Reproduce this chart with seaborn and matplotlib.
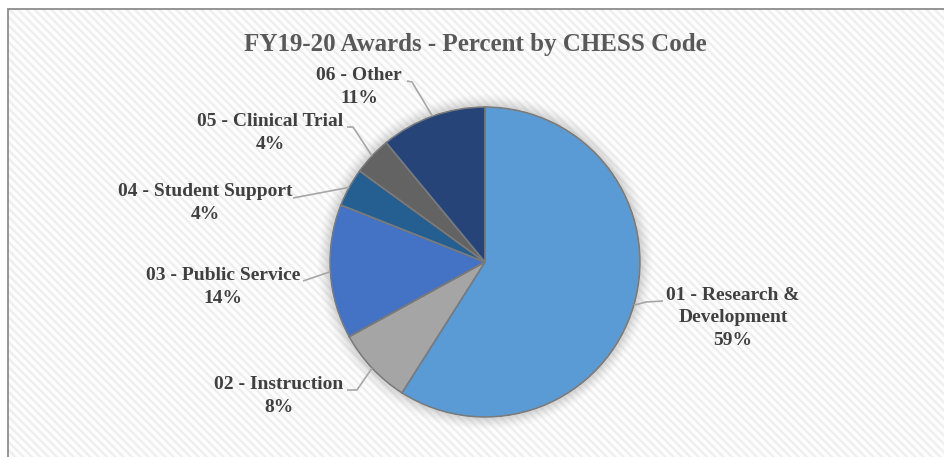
import matplotlib
matplotlib.use("Agg")
import matplotlib.pyplot as plt
import seaborn as sns
import numpy as np
from matplotlib.patches import Rectangle, Circle

sns.set_theme(style="white")
plt.rcParams['font.family'] = ['Liberation Serif', 'DejaVu Serif']
plt.rcParams['hatch.linewidth'] = 1.6

# ---- data ----
categories = ["01 - Research &\nDevelopment", "02 - Instruction", "03 - Public Service",
              "04 - Student Support", "05 - Clinical Trial", "06 - Other"]
values = [59, 8, 14, 4, 4, 11]
pct_labels = ["59%", "8%", "14%", "4%", "4%", "11%"]
colors = ["#5B9BD5", "#A5A5A5", "#4472C4", "#255E91", "#636363", "#264478"]
title = "FY19-20 Awards - Percent by CHESS Code"

W, H = 945, 457
fig = plt.figure(figsize=(W / 100, H / 100), dpi=100)
ax = fig.add_axes([0, 0, 1, 1])
ax.set_xlim(0, W)
ax.set_ylim(0, H)
ax.set_aspect("equal")
ax.axis("off")

def P(x, y):
    return (x, H - y)

# background with fine diagonal stripes
bg = Rectangle(P(8, 457 + 20), 1000, 457 + 20 - 9, facecolor="#FDFDFD",
               edgecolor="#EEEEEE", hatch="\\\\\\\\", linewidth=0, zorder=0)
ax.add_patch(bg)
border = Rectangle(P(8, 457 + 20), 1000, 457 + 20 - 9, facecolor="none",
                   edgecolor="#8C8C8C", linewidth=1.3, zorder=1)
ax.add_patch(border)

cx, cy, r = 485, 262, 155
center = P(cx, cy)

# soft shadow around pie
for k, a in zip(range(14, 0, -1), np.linspace(0.01, 0.06, 14)):
    ax.add_patch(Circle(center, r + k * 0.9, facecolor="#9A9A9A", edgecolor="none",
                        alpha=a, zorder=1.5))
ax.add_patch(Circle(center, r + 1, facecolor="white", edgecolor="none", zorder=1.6))

wedges, _ = ax.pie(values, colors=colors, startangle=90, counterclock=False,
                   center=center, radius=r, frame=True,
                   wedgeprops=dict(edgecolor="#7A7A7A", linewidth=1.2))
for w in wedges:
    w.set_zorder(2)
ax.set_xlim(0, W)
ax.set_ylim(0, H)
ax.axis("off")

# label positions (pixel coords: center of text block) and leader stubs
label_pos = [(733, 318), (279, 396), (223, 287), (205, 203), (270, 133), (359, 87)]
stub_start = [(663, 301), (347, 390), (303, 281), (293, 198), (347, 127), (407, 81)]
stub_knee = [(646, 302), (357, 390), (303, 281), (293, 198), (353, 127), (412, 82)]

cum = np.cumsum([0] + values[:-1])
total = sum(values)
for i, (cat, pct) in enumerate(zip(categories, pct_labels)):
    mid = 90 - 360 * (cum[i] + values[i] / 2) / total
    ex = cx + r * np.cos(np.radians(mid))
    ey = cy - r * np.sin(np.radians(mid))
    sx, sy = stub_start[i]
    kx, ky = stub_knee[i]
    ax.plot([sx, kx, ex], [H - sy, H - ky, H - ey], color="#A6A6A6", lw=1.2,
            zorder=3, solid_capstyle="butt")
    lx, ly = label_pos[i]
    ax.text(lx, H - ly, cat + "\n" + pct, ha="center", va="center",
            fontsize=14, fontweight="bold", color="#404040", linespacing=1.4,
            zorder=4)

ax.text(475, H - 45, title, ha="center", va="center", fontsize=18,
        fontweight="bold", color="#595959", zorder=4)

fig.savefig("out.png", dpi=100)
